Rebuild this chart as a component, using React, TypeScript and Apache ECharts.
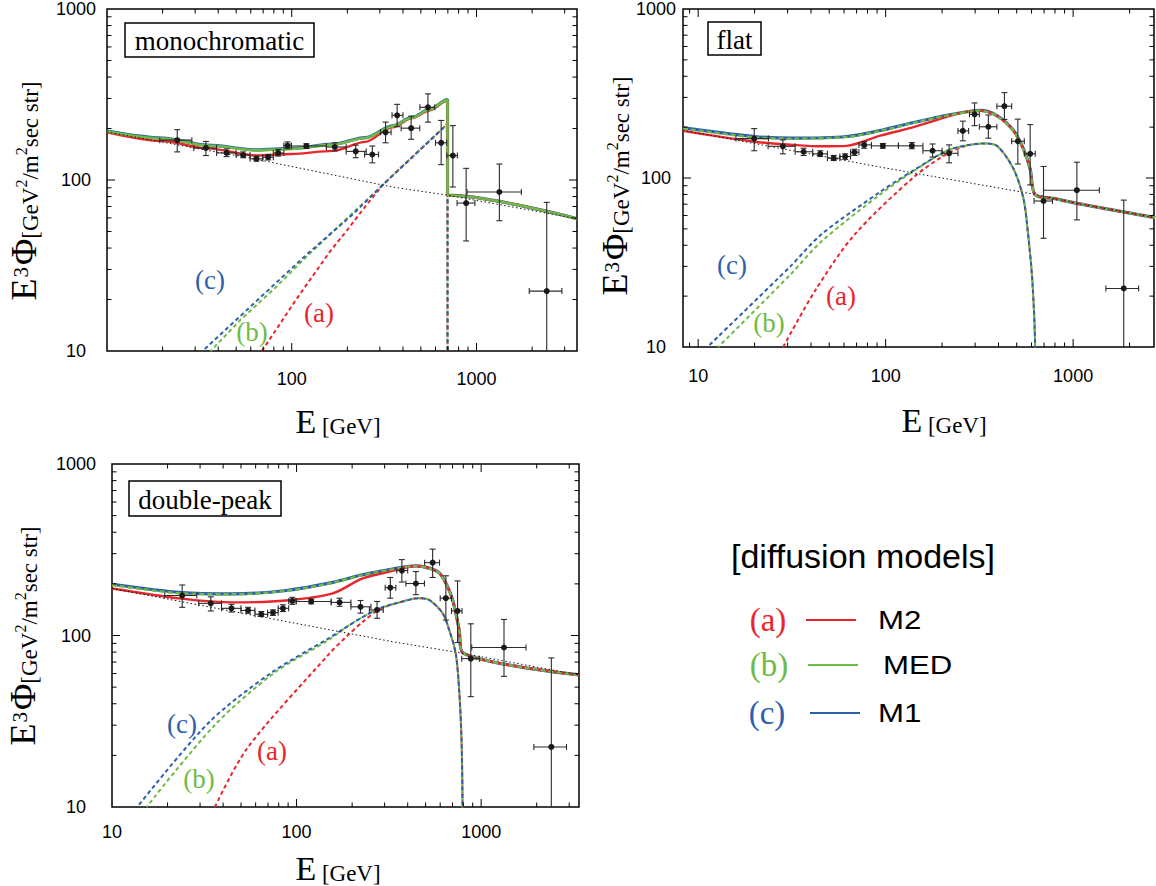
import { useEffect, useRef } from 'react';
import * as echarts from 'echarts';

const RED = '#e8262b';
const GREEN = '#6dbb45';
const BLUE = '#2d5fab';
const SERIF = '"Liberation Serif", "Times New Roman", serif';
const SANS = '"Liberation Sans", Arial, Helvetica, sans-serif';

// ---- tick values (log axes) ----
const xTickValues = [8, 9, 10, 20, 30, 40, 50, 60, 70, 80, 90, 100, 200, 300, 400, 500, 600, 700, 800, 900, 1000, 2000, 3000];
const yTickValues = [10, 20, 30, 40, 50, 60, 70, 80, 90, 100, 200, 300, 400, 500, 600, 700, 800, 900, 1000];
const majorTicks = [10, 100, 1000];

// ---- measured data: [E, E^3 Phi, Elo, Ehi, lo, hi] ----
const electronData = [
  [24.0, 171, 19.3, 28.8, 146, 197],
  [34.3, 154, 29.5, 39.2, 139, 168],
  [44.4, 144, 39.2, 50.0, 137, 152],
  [54.6, 140, 50.0, 59.5, 135, 146],
  [64.4, 133, 59.5, 69.7, 129, 138],
  [74.5, 136, 69.7, 79.5, 131, 141],
  [84.4, 144, 79.5, 90.6, 138, 151],
  [94.8, 159, 90.6, 99.5, 152, 167],
  [120, 158, 99.5, 154, 153, 163],
  [171, 156, 154, 197, 148, 165],
  [222, 147, 197, 253, 135, 160],
  [273, 141, 248, 295, 126, 158],
  [322, 190, 302, 345, 165, 218],
  [372, 239, 349, 400, 205, 277],
  [443, 201, 391, 493, 173, 236],
  [546, 266, 494, 595, 218, 319],
  [644, 165, 600, 690, 123, 223],
  [745, 139, 691, 788, 91, 208],
  [879, 73.3, 785, 981, 44, 117],
  [1330, 85.1, 889, 1750, 57.8, 124],
  [2400, 22.4, 1930, 2900, 1, 74],
];
const flatData = [
  [19.9, 171, 15.9, 23.7, 145, 196],
  [28.3, 154, 23.6, 32.9, 139, 168],
  [36.5, 143, 32.9, 40.8, 136, 150],
  [44.8, 139, 40.8, 48.9, 134, 145],
  [52.8, 131, 48.9, 57.0, 127, 136],
  [60.8, 134, 57.0, 65.0, 129, 139],
  [68.2, 142, 65.0, 72.0, 136, 148],
  [76.8, 157, 72.0, 84.0, 150, 164],
  [96.6, 155, 84.0, 117, 150, 160],
  [138, 155, 117, 158, 149, 162],
  [178, 145, 158, 200, 133, 159],
  [218, 140, 200, 243, 123, 157],
  [258, 190, 243, 277, 166, 217],
  [298, 238, 280, 316, 204, 278],
  [353, 201, 316, 392, 172, 236],
  [430, 266, 392, 470, 222, 320],
  [507, 165, 470, 549, 121, 223],
  [590, 139, 549, 628, 91, 207],
  [695, 73.1, 619, 776, 44, 117],
  [1047, 84.7, 695, 1380, 56.5, 124],
  [1862, 22.2, 1495, 2235, 1, 74],
];

// ---- panel 1: monochromatic ----
const monoBackground = [[10, 191], [64.6, 132], [351, 91], [697, 81.5], [3500, 59.4]];
const monoTotalMED = [[10, 192], [20, 175], [35, 159], [64.6, 149], [100, 152], [167, 161], [250, 176], [351, 206], [450, 232], [557, 258], [697, 294], [697, 81.5], [3500, 59.4]];
const monoTotalM1 = [[10, 193], [20, 176], [35, 160], [64.6, 150], [100, 153], [167, 162], [250, 177], [351, 207], [450, 233], [557, 259], [697, 295], [697, 81.5], [3500, 59.4]];
const monoTotalM2 = [[10, 190], [20, 169], [35, 153], [64.6, 139], [100, 142], [167, 148], [250, 167], [351, 203], [450, 230], [557, 255], [697, 291], [697, 81.5], [3500, 59.4]];
const monoDmM1 = [[32.9, 10], [70, 21.3], [120, 36.5], [214, 63], [312, 94], [400, 121], [697, 213], [697, 1]];
const monoDmMED = [[36.4, 10], [52.7, 15.2], [80, 23], [120, 35.5], [200, 60], [312, 94], [400, 121], [697, 213], [697, 1]];
const monoDmM2 = [[68.9, 10], [105, 19.8], [160, 37.8], [198, 50.4], [250, 70], [312, 94], [400, 121], [697, 213], [697, 1]];

// ---- panel 2: flat ----
const flatBackground = [[8.3, 192], [93.5, 116], [627, 80], [1047, 70.8], [2736, 58.3]];
const flatTotalMED = [[8.3, 196], [19.9, 174], [32.2, 171], [62, 175], [93.5, 190], [141, 212], [212, 234], [294, 249], [319, 250], [392, 233], [481, 190], [543, 148], [590, 113], [627, 79.5], [785, 75.7], [1047, 70.8], [2736, 58.3]];
const flatTotalM1 = [[8.3, 198], [19.9, 176], [32.2, 172], [62, 176], [93.5, 191], [141, 213], [212, 235], [294, 250], [319, 251], [392, 234], [481, 191], [543, 149], [590, 113], [627, 79.5], [785, 75.7], [1047, 70.8], [2736, 58.3]];
const flatTotalM2 = [[8.3, 190], [19.9, 164], [32.2, 157], [45, 154], [62, 155], [93.5, 178], [141, 200], [212, 230], [271, 247], [319, 250], [392, 233], [481, 190], [543, 148], [590, 113], [627, 79.5], [785, 75.7], [1047, 70.8], [2736, 58.3]];
const flatDmM1 = [[11.2, 10], [31.2, 30.2], [45.3, 46.3], [93.5, 82.8], [141, 111], [212, 145], [270, 156], [332, 160], [392, 155], [481, 113], [543, 75.7], [573, 48.3], [606, 24.6], [627, 10], [632, 1]];
const flatDmMED = [[12.8, 10], [31.2, 27], [45.3, 42], [93.5, 80], [141, 110], [212, 145], [270, 156], [332, 160], [392, 155], [481, 113], [543, 75.7], [573, 48.3], [606, 24.6], [627, 10], [632, 1]];
const flatDmM2 = [[28.4, 10], [42, 21.5], [68, 46], [141, 101], [212, 139], [270, 155], [332, 160], [392, 155], [481, 113], [543, 75.7], [573, 48.3], [606, 24.6], [627, 10], [632, 1]];

// ---- panel 3: double-peak ----
const dpBackground = [[10, 188], [331, 92], [760, 79.4], [3390, 58.9]];
const dpTotalMED = [[10, 197], [23.8, 176], [45.3, 174], [87.9, 182], [157, 203], [228, 225], [331, 243], [443, 254], [524, 246], [593, 231], [644, 201], [700, 161], [760, 108], [793, 79.4], [3390, 58.9]];
const dpTotalM1 = [[10, 199], [23.8, 178], [45.3, 175], [87.9, 183], [157, 204], [228, 226], [331, 244], [443, 255], [524, 247], [593, 232], [644, 202], [700, 162], [760, 108], [793, 79.4], [3390, 58.9]];
const dpTotalM2 = [[10, 188], [23.8, 164], [45.3, 156], [87.9, 160], [157, 176], [228, 215], [331, 238], [443, 254], [524, 246], [593, 231], [644, 201], [700, 161], [760, 108], [793, 79.4], [3390, 58.9]];
const dpDmM1 = [[13.7, 10], [33.3, 30.9], [72, 60], [151, 97], [186, 112], [228, 128], [281, 144], [346, 154], [462, 165], [524, 161], [618, 135], [667, 110], [728, 78.7], [760, 48.1], [783, 24.6], [793, 10], [797, 1]];
const dpDmMED = [[15.4, 10], [36, 30], [75.4, 60.3], [151, 95], [186, 112], [228, 128], [281, 144], [346, 154], [462, 165], [524, 161], [618, 135], [667, 110], [728, 78.7], [760, 48.1], [783, 24.6], [793, 10], [797, 1]];
const dpDmM2 = [[36.1, 10], [54, 22], [151, 78.7], [186, 98.4], [228, 120], [281, 142], [346, 154], [462, 165], [524, 161], [618, 135], [667, 110], [728, 78.7], [760, 48.1], [783, 24.6], [793, 10], [797, 1]];

const panelNames = ['monochromatic', 'flat', 'double-peak'];
const legendModels = ['M2', 'MED', 'M1'];
const legendTags = ['(a)', '(b)', '(c)'];

type Panel = {
  grid: { left: number; top: number; width: number; height: number };
  xMin: number; xMax: number;
  showMinX: boolean;
  xLabelMargin: number; yLabelMargin: number; yLabelPad: number;
  data: number[][];
  bg: number[][]; tMED: number[][]; tM1: number[][]; tM2: number[][];
  dM1: number[][]; dMED: number[][]; dM2: number[][];
  greenDashedTotal: boolean;
  monotone: boolean;
  dmSmooth: number;
};

const panels: Panel[] = [
  {
    grid: { left: 107, top: 7, width: 470, height: 344 }, xMin: 10, xMax: 3500, showMinX: false,
    xLabelMargin: 19, yLabelMargin: 31, yLabelPad: 10, data: electronData,
    bg: monoBackground, tMED: monoTotalMED, tM1: monoTotalM1, tM2: monoTotalM2,
    dM1: monoDmM1, dMED: monoDmMED, dM2: monoDmM2, greenDashedTotal: false, monotone: true, dmSmooth: 0,
  },
  {
    grid: { left: 683, top: 5, width: 471, height: 342 }, xMin: 8.3, xMax: 2700, showMinX: false,
    xLabelMargin: 20, yLabelMargin: 27, yLabelPad: 6, data: flatData,
    bg: flatBackground, tMED: flatTotalMED, tM1: flatTotalM1, tM2: flatTotalM2,
    dM1: flatDmM1, dMED: flatDmMED, dM2: flatDmM2, greenDashedTotal: true, monotone: false, dmSmooth: 0.3,
  },
  {
    grid: { left: 112, top: 464, width: 467, height: 343 }, xMin: 10, xMax: 3390, showMinX: true,
    xLabelMargin: 16, yLabelMargin: 36, yLabelPad: 5, data: electronData,
    bg: dpBackground, tMED: dpTotalMED, tM1: dpTotalM1, tM2: dpTotalM2,
    dM1: dpDmM1, dMED: dpDmMED, dM2: dpDmM2, greenDashedTotal: true, monotone: false, dmSmooth: 0.3,
  },
];

const decadeLabel = (v: number) => {
  const l = Math.log10(v);
  return Math.abs(l - Math.round(l)) < 1e-6 ? String(Math.round(v)) : '';
};

function line(i: number, data: number[][], color: string, width: number, type: any, z: number, smooth: number, monotone: boolean, dashOffset = 0) {
  const s: any = {
    type: 'line', xAxisIndex: i, yAxisIndex: i, data, symbol: 'none', showSymbol: false,
    silent: true, clip: true, z, smooth: smooth > 0 ? smooth : false,
    lineStyle: { color, width, type, dashOffset, cap: 'butt' },
  };
  if (monotone && smooth > 0) s.smoothMonotone = 'x';
  return s;
}

function tickSeries(i: number) {
  const tickStyle = { stroke: '#000', lineWidth: 1 };
  return [
    {
      type: 'custom', xAxisIndex: i, yAxisIndex: i, silent: true, clip: false, z: 20,
      encode: { x: 0, y: 1 },
      data: xTickValues.map((v) => [v, 100, majorTicks.includes(v) ? 1 : 0]),
      renderItem: (params: any, api: any) => {
        const cs = params.coordSys;
        const p = api.coord([api.value(0), 100]);
        if (p[0] < cs.x + 0.5 || p[0] > cs.x + cs.width - 0.5) return null;
        const L = api.value(2) ? 8 : 4.5;
        const b = cs.y + cs.height;
        return {
          type: 'group',
          children: [
            { type: 'line', shape: { x1: p[0], y1: b, x2: p[0], y2: b - L }, style: tickStyle },
            { type: 'line', shape: { x1: p[0], y1: cs.y, x2: p[0], y2: cs.y + L }, style: tickStyle },
          ],
        };
      },
    },
    {
      type: 'custom', xAxisIndex: i, yAxisIndex: i, silent: true, clip: false, z: 20,
      encode: { x: 0, y: 1 },
      data: yTickValues.map((v) => [100, v, majorTicks.includes(v) ? 1 : 0]),
      renderItem: (params: any, api: any) => {
        const cs = params.coordSys;
        const p = api.coord([100, api.value(1)]);
        if (p[1] < cs.y + 0.5 || p[1] > cs.y + cs.height - 0.5) return null;
        const L = api.value(2) ? 8 : 4.5;
        const r = cs.x + cs.width;
        return {
          type: 'group',
          children: [
            { type: 'line', shape: { x1: cs.x, y1: p[1], x2: cs.x + L, y2: p[1] }, style: tickStyle },
            { type: 'line', shape: { x1: r, y1: p[1], x2: r - L, y2: p[1] }, style: tickStyle },
          ],
        };
      },
    },
  ];
}

function errorSeries(i: number, data: number[][]) {
  return {
    type: 'custom', xAxisIndex: i, yAxisIndex: i, silent: true, clip: true, z: 15,
    encode: { x: 0, y: 1 },
    data,
    renderItem: (_params: any, api: any) => {
      const E = api.value(0);
      const F = api.value(1);
      const c = api.coord([E, F]);
      const l = api.coord([api.value(2), F]);
      const h = api.coord([api.value(3), F]);
      const lo = api.coord([E, api.value(4)]);
      const hi = api.coord([E, api.value(5)]);
      const st = { stroke: '#2b2b2b', lineWidth: 1.1 };
      const cap = 3;
      return {
        type: 'group',
        children: [
          { type: 'line', shape: { x1: l[0], y1: c[1], x2: h[0], y2: c[1] }, style: st },
          { type: 'line', shape: { x1: l[0], y1: c[1] - cap, x2: l[0], y2: c[1] + cap }, style: st },
          { type: 'line', shape: { x1: h[0], y1: c[1] - cap, x2: h[0], y2: c[1] + cap }, style: st },
          { type: 'line', shape: { x1: c[0], y1: lo[1], x2: c[0], y2: hi[1] }, style: st },
          { type: 'line', shape: { x1: c[0] - cap, y1: lo[1], x2: c[0] + cap, y2: lo[1] }, style: st },
          { type: 'line', shape: { x1: c[0] - cap, y1: hi[1], x2: c[0] + cap, y2: hi[1] }, style: st },
          { type: 'circle', shape: { cx: c[0], cy: c[1], r: 3 }, style: { fill: '#1a1a1a' } },
        ],
      };
    },
  };
}

function buildOption() {
  const grids: any[] = [];
  const xAxes: any[] = [];
  const yAxes: any[] = [];
  const series: any[] = [];
  panels.forEach((p, i) => {
    grids.push({ ...p.grid, show: true, borderColor: '#000', borderWidth: 1.5, backgroundColor: 'transparent', containLabel: false });
    xAxes.push({
      type: 'log', logBase: 10, gridIndex: i, min: p.xMin, max: p.xMax,
      axisLine: { show: false }, axisTick: { show: false }, splitLine: { show: false }, minorTick: { show: false },
      axisLabel: {
        fontFamily: SANS, fontSize: 18, color: '#000', margin: p.xLabelMargin,
        showMinLabel: p.showMinX, showMaxLabel: false, formatter: decadeLabel,
      },
    });
    yAxes.push({
      type: 'log', logBase: 10, gridIndex: i, min: 10, max: 1000,
      axisLine: { show: false }, axisTick: { show: false }, splitLine: { show: false }, minorTick: { show: false },
      axisLabel: {
        fontFamily: SANS, fontSize: 18, color: '#000', margin: p.yLabelMargin, align: 'center',
        padding: [p.yLabelPad, 0, 0, 0], showMinLabel: true, showMaxLabel: true, formatter: decadeLabel,
      },
    });
    const sm = 0.3;
    // dark-matter components (dashed)
    series.push(line(i, p.dM2, RED, 2, [4, 3], 2, p.dmSmooth, p.monotone, 0));
    series.push(line(i, p.dMED, GREEN, 2, [4, 3], 3, p.dmSmooth, p.monotone, 2));
    series.push(line(i, p.dM1, BLUE, 2, [4, 3], 4, p.dmSmooth, p.monotone, 4));
    // totals
    series.push(line(i, p.tM1, BLUE, 3.2, 'solid', 5, sm, p.monotone));
    series.push(line(i, p.tM2, RED, 2.4, 'solid', 6, sm, p.monotone));
    series.push(line(i, p.tMED, GREEN, p.greenDashedTotal ? 2.4 : 2.6, p.greenDashedTotal ? [5, 3] : 'solid', 7, sm, p.monotone));
    // background (dotted)
    series.push(line(i, p.bg, '#111', 1, [1.5, 2.5], 8, 0, false));
    series.push(errorSeries(i, p.data));
    series.push(...tickSeries(i));
  });

  const yTitle = (x: number, y: number) => ({
    type: 'text', x, y, rotation: Math.PI / 2, z: 50,
    style: {
      text: '{b|E}{b3|3}{b|Φ}{s|[GeV}{sup|2}{s|/m}{sup|2}{s|sec str]}',
      align: 'center', verticalAlign: 'bottom', fill: '#000',
      rich: {
        b: { fontFamily: SERIF, fontSize: 36, verticalAlign: 'bottom', fill: '#000' },
        b3: { fontFamily: SERIF, fontSize: 21, verticalAlign: 'top', fill: '#000', padding: [4, 2, 0, 1] },
        s: { fontFamily: SERIF, fontSize: 23, verticalAlign: 'bottom', fill: '#000' },
        sup: { fontFamily: SERIF, fontSize: 16, verticalAlign: 'top', fill: '#000', padding: [7, 0, 0, 0] },
      },
    },
  });
  const xTitle = (x: number, y: number) => ({
    type: 'text', x, y, z: 50,
    style: {
      text: '{b|E}{s| [GeV]}',
      align: 'center', verticalAlign: 'bottom', fill: '#000',
      rich: {
        b: { fontFamily: SERIF, fontSize: 34, verticalAlign: 'bottom', fill: '#000' },
        s: { fontFamily: SERIF, fontSize: 23, verticalAlign: 'bottom', fill: '#000' },
      },
    },
  });
  const boxLabel = (text: string, x: number, y: number, w: number, h: number) => ({
    type: 'group', z: 60,
    children: [
      { type: 'rect', shape: { x, y, width: w, height: h }, style: { fill: '#fff', stroke: '#000', lineWidth: 1.5 }, z: 60 },
      { type: 'text', x: x + w / 2, y: y + h / 2 + 1, z: 61, style: { text, font: `27px ${SERIF}`, fill: '#000', align: 'center', verticalAlign: 'middle' } },
    ],
  });
  const tag = (text: string, color: string, x: number, y: number, size = 27) => ({
    type: 'text', x, y, z: 55,
    style: { text, font: `${size}px ${SERIF}`, fill: color, align: 'center', verticalAlign: 'middle' },
  });
  const colors = [RED, GREEN, BLUE];
  const legendRows = [
    { tx: 768, y: 620, lx1: 806, lx2: 856, mx: 878 },
    { tx: 769, y: 665, lx1: 808, lx2: 858, mx: 883 },
    { tx: 767, y: 713, lx1: 810, lx2: 860, mx: 878 },
  ];

  const graphic: any[] = [
    yTitle(42, 191), yTitle(633, 186), yTitle(41, 636),
    xTitle(338, 438), xTitle(944, 437), xTitle(338, 885),
    boxLabel(panelNames[0], 125, 23, 189, 34),
    boxLabel(panelNames[1], 708, 22, 53, 33),
    boxLabel(panelNames[2], 129, 481, 152, 35),
    tag('(c)', BLUE, 210, 280), tag('(b)', GREEN, 252, 332), tag('(a)', RED, 319, 313),
    tag('(c)', BLUE, 732, 265), tag('(b)', GREEN, 769, 323), tag('(a)', RED, 841, 296),
    tag('(c)', BLUE, 182, 724), tag('(b)', GREEN, 199, 779), tag('(a)', RED, 272, 751),
    { type: 'text', x: 863, y: 556, z: 50, style: { text: '[diffusion models]', font: `34px ${SANS}`, fill: '#000', align: 'center', verticalAlign: 'middle' } },
  ];
  legendRows.forEach((r, k) => {
    graphic.push(tag(legendTags[k], colors[k], r.tx, r.y, 33));
    graphic.push({ type: 'line', z: 50, shape: { x1: r.lx1, y1: r.y, x2: r.lx2, y2: r.y }, style: { stroke: colors[k], lineWidth: 2 } });
    graphic.push({
      type: 'text', x: r.mx, y: r.y, scaleX: 1.2, z: 50,
      style: { text: legendModels[k], font: `26px ${SANS}`, fill: '#000', align: 'left', verticalAlign: 'middle' },
    });
  });

  return {
    animation: false,
    backgroundColor: '#fff',
    grid: grids,
    xAxis: xAxes,
    yAxis: yAxes,
    series,
    graphic: { elements: graphic },
  };
}

export default function App() {
  const ref = useRef<HTMLDivElement>(null);
  useEffect(() => {
    if (!ref.current) return;
    const chart = echarts.init(ref.current, null, { renderer: 'svg' });
    chart.setOption(buildOption() as any);
    return () => chart.dispose();
  }, []);
  return (
    <div
      ref={ref}
      style={{ position: 'fixed', left: 0, top: 0, width: 1156, height: 886, background: '#fff' }}
    />
  );
}
